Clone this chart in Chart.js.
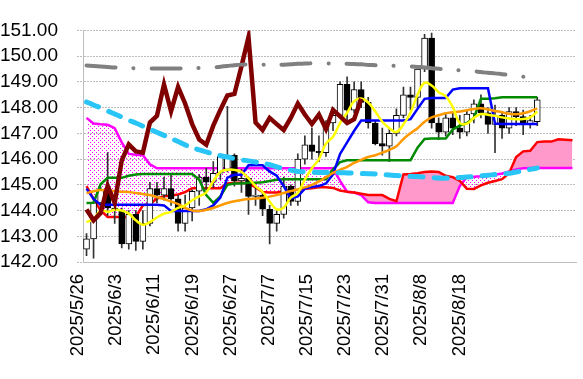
<!DOCTYPE html>
<html><head><meta charset="utf-8">
<script src="https://cdn.jsdelivr.net/npm/chart.js@4/dist/chart.umd.min.js"></script>
<style>html,body{margin:0;padding:0;background:#fff}#wrap{width:583px;height:379px;position:relative}</style>
</head><body><div id="wrap"><canvas id="c"></canvas></div>
<script>
const categories = ['2025/5/26','2025/5/27','2025/5/28','2025/5/29','2025/5/30','2025/6/2','2025/6/3','2025/6/4','2025/6/5','2025/6/6','2025/6/9','2025/6/10','2025/6/11','2025/6/12','2025/6/13','2025/6/16','2025/6/17','2025/6/18','2025/6/19','2025/6/20','2025/6/23','2025/6/24','2025/6/25','2025/6/26','2025/6/27','2025/6/30','2025/7/1','2025/7/2','2025/7/3','2025/7/4','2025/7/7','2025/7/8','2025/7/9','2025/7/10','2025/7/11','2025/7/14','2025/7/15','2025/7/16','2025/7/17','2025/7/18','2025/7/21','2025/7/22','2025/7/23','2025/7/24','2025/7/25','2025/7/28','2025/7/29','2025/7/30','2025/7/31','2025/8/1','2025/8/4','2025/8/5','2025/8/6','2025/8/7','2025/8/8','2025/8/11','2025/8/12','2025/8/13','2025/8/14','2025/8/15','2025/8/18','2025/8/19','2025/8/20','2025/8/21','2025/8/22','2025/8/25','2025/8/26','2025/8/27','2025/8/28','2025/8/29'];
const tickLabels = ['2025/5/26','2025/6/3','2025/6/11','2025/6/19','2025/6/27','2025/7/7','2025/7/15','2025/7/23','2025/7/31','2025/8/8','2025/8/18'];
const yTicks = [142,143,144,145,146,147,148,149,150,151];

const open  = [142.5,142.9,144.3,144.8,144.1,144.0,142.7,143.85,142.8,143.5,144.85,144.6,144.85,144.45,143.5,144.1,144.75,145.3,145.1,145.45,145.6,146.15,145.15,145.25,144.55,144.6,144.05,143.5,143.85,144.95,144.35,146.0,146.55,146.3,146.25,147.4,147.7,148.9,147.9,148.7,148.2,147.4,146.6,146.5,147.0,147.7,148.5,148.4,149.5,150.7,147.4,147.05,147.6,147.2,147.05,147.75,148.15,147.8,147.35,147.7,147.2,147.85,147.65,147.35,147.45];
const high  = [143.1,144.45,144.9,146.25,144.4,144.1,144.0,144.0,144.0,145.1,145.1,145.3,145.45,144.6,144.6,144.8,145.4,145.65,145.9,146.2,148.05,146.2,145.6,145.3,144.9,144.75,144.2,144.0,145.3,145.0,146.2,146.9,147.2,146.9,147.5,147.9,149.0,149.2,149.0,149.0,148.4,147.5,147.2,147.2,147.95,148.8,148.8,149.6,150.85,150.9,147.6,147.8,147.8,147.7,147.9,148.3,148.5,148.0,148.1,147.8,148.0,148.0,147.9,147.7,148.4];
const low   = [142.25,142.15,143.9,143.8,143.5,142.55,142.5,142.45,142.5,143.4,144.3,144.4,144.2,143.2,143.2,143.6,144.2,144.8,144.9,145.2,145.5,144.95,144.7,143.85,144.2,143.8,142.7,143.2,143.7,144.2,144.2,145.8,146.0,145.9,146.1,147.1,147.6,147.5,147.8,148.0,147.2,146.55,146.15,145.9,146.9,147.6,147.9,148.0,149.4,147.2,146.75,146.9,146.95,146.8,146.9,147.4,147.6,147.0,146.25,146.8,147.0,147.3,146.95,147.2,147.3];
const close = [142.9,144.3,144.8,144.1,144.0,142.7,143.85,142.8,143.5,144.85,144.6,144.85,144.45,143.5,144.1,144.75,145.3,145.1,145.45,146.1,146.15,145.15,145.25,144.55,144.6,144.05,143.5,143.85,144.95,144.35,146.0,146.55,146.3,146.25,147.4,147.7,148.9,147.9,148.7,148.2,147.4,146.6,146.5,147.0,147.7,148.5,148.4,149.5,150.7,147.4,147.05,147.6,147.2,147.05,147.75,148.15,147.8,147.35,147.7,147.2,147.85,147.65,147.35,147.5,148.3];

const tenkan = [144.85,144.45,144.22,144.22,144.22,144.22,144.22,144.22,144.22,144.22,144.22,144.2,143.98,143.98,143.98,143.98,143.98,144.05,144.2,144.5,145.28,145.39,145.39,145.76,145.76,145.76,145.52,145.35,144.95,144.47,144.55,144.85,144.92,144.95,145.05,145.4,146.2,146.65,147.1,147.5,147.5,147.5,147.5,147.5,147.5,147.5,147.55,147.95,148.34,148.37,148.37,148.37,148.7,148.75,148.75,148.75,148.75,148.75,147.38,147.36,147.36,147.36,147.36,147.36,147.36];
const kijun = [144.29,144.3,145.02,145.27,145.27,145.27,145.35,145.4,145.42,145.42,145.42,145.42,145.42,145.42,145.42,145.42,145.2,144.6,144.3,144.55,145.0,145.05,145.05,145.08,145.08,145.1,145.15,145.2,145.22,145.22,145.22,145.22,145.22,145.22,145.22,145.6,145.88,145.95,145.95,145.95,145.95,145.95,145.95,145.95,145.95,145.95,145.95,146.44,146.78,146.8,146.8,146.8,147.15,147.3,147.4,147.6,148.34,148.34,148.36,148.4,148.4,148.4,148.4,148.4,148.4];
const senkouA = [144.95,144.45,144.0,143.75,143.75,143.75,143.75,143.75,144.2,144.25,144.47,144.55,144.58,144.62,144.72,144.87,144.87,144.87,144.87,144.87,145.05,145.08,145.08,145.05,144.9,144.72,144.7,144.7,144.75,144.8,144.82,144.85,144.87,144.9,144.9,144.88,144.78,144.73,144.7,144.65,144.6,144.6,144.6,144.45,144.36,145.4,145.42,145.45,145.5,145.52,145.5,145.35,145.3,145.15,144.85,144.84,144.98,145.08,145.15,145.22,145.45,146.08,146.3,146.32,146.66,146.68,146.68,146.77,146.75,146.73];
const senkouB = [147.6,147.38,147.35,147.33,147.2,146.65,146.2,146.17,146.15,145.8,145.64,145.64,145.64,145.64,145.64,145.64,145.64,145.64,145.64,145.64,145.64,145.64,145.64,145.64,145.64,145.64,145.64,145.64,145.64,145.64,145.64,145.64,145.64,145.64,145.64,145.64,145.15,144.73,144.7,144.6,144.32,144.29,144.29,144.29,144.29,144.29,144.29,144.29,144.29,144.29,144.29,144.29,144.29,144.95,145.3,145.31,145.33,145.36,145.39,145.44,145.52,145.6,145.64,145.65,145.65,145.65,145.65,145.65,145.65,145.65];
const chikou = [144.04,143.62,143.9,144.96,144.3,145.95,146.57,146.3,146.25,147.42,147.68,148.9,147.86,148.8,148.16,147.36,146.76,146.56,147.3,147.91,148.47,148.53,149.6,150.74,147.42,147.13,147.6,147.36,147.13,147.6,148.16,147.73,147.36,147.73,147.17,147.91,147.66,147.4,147.55,148.34];
const ma5 = [143.55,143.67,144.0,143.95,144.03,144.0,143.88,143.62,143.45,143.55,143.73,143.88,143.95,144.1,144.2,144.4,144.55,144.7,145.15,145.5,145.58,145.58,145.5,145.25,144.95,144.72,144.35,144.05,144.12,144.5,144.68,145.2,145.64,146.0,146.6,146.87,147.4,147.8,148.25,148.35,148.2,147.85,147.45,147.2,147.05,147.35,147.8,148.5,148.96,148.86,148.6,148.45,148.02,147.4,147.38,147.6,147.75,147.72,147.68,147.62,147.58,147.55,147.56,147.62,147.85];
const ma25 = [144.68,144.75,144.8,144.78,144.75,144.73,144.72,144.68,144.64,144.6,144.52,144.45,144.35,144.25,144.1,144.0,143.98,144.03,144.1,144.2,144.29,144.36,144.41,144.45,144.47,144.5,144.54,144.6,144.68,144.76,144.82,144.9,145.0,145.13,145.3,145.46,145.58,145.7,145.85,145.97,146.08,146.15,146.25,146.36,146.5,146.78,147.0,147.2,147.45,147.62,147.7,147.78,147.82,147.85,147.9,147.95,147.97,147.93,147.87,147.82,147.76,147.74,147.78,147.86,147.97];
const ma75 = [148.22,148.1,147.99,147.87,147.75,147.63,147.51,147.4,147.28,147.16,147.04,146.92,146.8,146.68,146.55,146.45,146.36,146.28,146.2,146.13,146.08,146.02,145.97,145.93,145.88,145.84,145.78,145.7,145.63,145.57,145.52,145.5,145.49,145.48,145.48,145.47,145.47,145.46,145.45,145.44,145.43,145.42,145.4,145.38,145.36,145.35,145.33,145.32,145.3,145.28,145.26,145.26,145.27,145.28,145.3,145.32,145.35,145.37,145.4,145.42,145.45,145.5,145.55,145.6,145.65];
const ma200 = [149.64,149.62,149.6,149.58,149.56,149.55,149.54,149.53,149.52,149.52,149.52,149.52,149.52,149.52,149.53,149.53,149.54,149.55,149.56,149.59,149.62,149.65,149.67,149.68,149.68,149.67,149.67,149.67,149.67,149.68,149.7,149.71,149.72,149.72,149.72,149.71,149.71,149.7,149.69,149.68,149.66,149.65,149.64,149.63,149.62,149.61,149.6,149.58,149.56,149.53,149.51,149.49,149.47,149.45,149.43,149.41,149.38,149.35,149.33,149.3,149.27,149.24,149.2,149.18,149.15];

const FONT = "'Liberation Sans', Arial, sans-serif";
const dotPattern = (() => {
  const c = document.createElement('canvas'); c.width = 4; c.height = 4;
  const g = c.getContext('2d');
  g.fillStyle = '#ff00ff'; g.fillRect(0, 0, 1, 1); g.fillRect(2, 2, 1, 1);
  return g.createPattern(c, 'repeat');
})();

function line(data, color, width, order, extra) {
  return Object.assign({type: 'line', data, borderColor: color, borderWidth: width, pointRadius: 0,
    pointHoverRadius: 0, fill: false, tension: 0, order}, extra || {});
}

const datasets = [
  line(senkouA, '#ff0000', 2.5, 30, {fill: {target: 1, above: '#ff99cc', below: dotPattern}}),
  line(senkouB, '#ff00ff', 2.5, 31),
  {type: 'bar', data: low.map((l, i) => [l, high[i]]), backgroundColor: '#333333', barThickness: 1, grouped: false, order: 25},
  {type: 'bar', data: open.map((o, i) => [o, close[i]]), backgroundColor: open.map((o, i) => close[i] >= o ? '#ffffff' : '#000000'),
    borderColor: '#000000', borderWidth: 1, borderSkipped: false, barThickness: 6, grouped: false, order: 24},
  line(kijun, '#008a00', 2.5, 12),
  line(tenkan, '#0000ff', 2.5, 11),
  line(ma25, '#ff9900', 2.5, 10, {tension: 0.4}),
  line(ma5, '#ffff00', 2.5, 9, {tension: 0.4}),
  line(chikou, '#800000', 4.5, 7),
  line(ma75, '#29c5f6', 5, 6, {tension: 0.4, borderDash: [13, 11], borderCapStyle: 'round'}),
  line(ma200, '#808080', 4, 5, {tension: 0.4, borderDash: [29, 18, 0.1, 18], borderCapStyle: 'round'})
];

new Chart(document.getElementById('c'), {
  type: 'bar',
  data: {labels: categories, datasets},
  options: {
    responsive: true, maintainAspectRatio: false, animation: false,
    layout: {padding: {left: 0, top: 7, right: 7, bottom: 0}},
    plugins: {legend: {display: false}, tooltip: {enabled: false}, filler: {drawTime: 'beforeDatasetsDraw'}},
    scales: {
      x: {type: 'category', display: false, offset: true, grid: {display: false}},
      xd: {
        type: 'linear', position: 'bottom', min: 0, max: 491 / 38, offset: false,
        afterBuildTicks: s => { s.ticks = tickLabels.map((_, i) => ({value: i})); },
        grid: {display: false, drawTicks: false, offset: false},
        border: {display: true, color: '#bdbdbd', width: 1},
        ticks: {autoSkip: false, maxRotation: 90, minRotation: 90, labelOffset: -5, padding: 12,
          font: {family: FONT, size: 18.5}, color: '#000000', callback: (v, i) => tickLabels[i]},
        afterFit: s => { s.height = 117; }
      },
      y: {
        type: 'linear', position: 'left', min: 142, max: 151,
        afterBuildTicks: s => { s.ticks = yTicks.map(v => ({value: v})); },
        grid: {color: '#bdbdbd', lineWidth: 1, drawTicks: true, tickLength: 6, tickColor: '#bdbdbd', tickBorderDash: [2, 1]},
        border: {display: true, color: '#bdbdbd', width: 1, dash: [2, 1]},
        ticks: {autoSkip: false, padding: 19, font: {family: FONT, size: 19}, color: '#000000', callback: v => Number(v).toFixed(2)},
        afterFit: s => { s.width = 83; }
      }
    }
  }
});
</script>
</body></html>
